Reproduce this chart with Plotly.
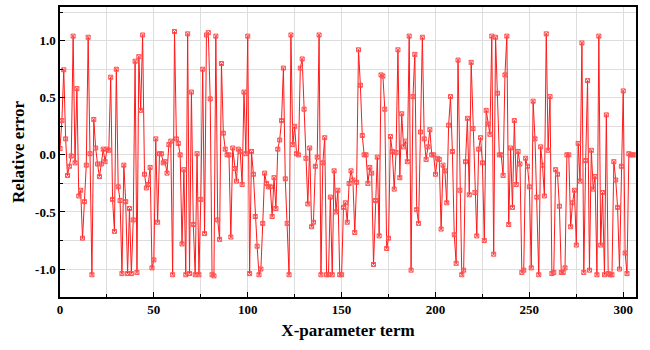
import plotly.graph_objects as go

# Relative error for each X-parameter term (index 0..306)
err_a = [0.055, 0.30, 0.745, 0.14, -0.18, -0.10, -0.01, 1.04, -0.07, 0.58,
         -0.36, -0.31, -0.73, -0.41, -0.09, 1.03, 0.01, -1.05, 0.31, 0.06,
         -0.08, -0.19, -0.08, 0.05, -0.06]
err_b = [0.05, 0.04, 0.68, -0.39, -0.67, 0.75, -0.28, -0.40, -1.04, -0.09,
         -0.41, -1.04, -0.47, -1.04, -0.57, 0.82, -1.03, 0.86, 0.39, 1.05,
         -0.17, -0.29, -0.26, -0.11, -0.99, -0.92]
err_c = [0.14, -0.59, 0.01, 0.01, -0.07, -0.06, -0.16, 0.09, 0.12, -1.05,
         1.08, 0.14, 0.10, 0.0, -0.78, -0.13, -1.05, 1.06, -1.04, 0.55,
         -0.61, -1.05, 0.01, -1.05, -0.39, 0.75]
err_d = [-0.69, 1.05, 1.07, 0.49, -1.05, -1.06, 1.04, -0.57, -0.74, 0.80,
         0.19, 0.05, 0.0, 0.0, -0.72, 0.06, -0.12, -0.23, 0.05, 0.03,
         -0.26, 0.55, 0.01, 1.04, -1.04]
err_e = [0.03, -0.17, -0.54, -0.80, -1.05, -1.0, -0.60, -0.16, -0.25, -0.28,
         -0.28, -0.54, -0.20, -0.47, 0.05, 0.13, 0.30, 0.76, -0.21, -0.60,
         -1.05, 1.05, 0.09, 0.25, 0.01, 0.0]
err_f = [0.76, 0.84, 0.40, -0.03, -0.43, 0.06, -0.63, -0.59, -0.10, -0.02,
         1.05, -1.05, -0.07, 0.15, -1.05, -1.05, -0.37, -1.05, -0.14, -0.50,
         -0.31, -1.05, -1.05, -0.46, -0.42, -0.59, -0.25]
err_g = [-0.14, -0.22, -0.68, -0.24, 0.92, 0.61, 0.17, 0.0, 0.0, -0.25,
         -0.11, -0.16, -0.96, -0.40, -0.02, -0.71, 0.70, 0.69, 0.40, -0.82,
         -0.73, 0.16, 0.03]
err_h = [-0.30, 0.02, 0.92, -0.20, 0.36, 0.07, 0.12, -0.06, 1.04, -1.01,
         0.51, 0.88, -0.48, -0.60, 0.20, 1.03, 0.14, -0.04, 0.07, 0.22,
         0.0, 0.0, -0.17, -0.03, -0.04, -0.65, -0.09]
err_i = [-0.14, -0.42, 0.26, 0.51, 0.03, -0.70, -0.95, 0.83, -0.31, -1.05,
         -1.01, -0.06, 0.32, -0.35, 0.81, 0.23, -0.33, -0.71, 0.05, 0.15,
         -0.07, -0.75, 0.39, 0.27, 0.18, 1.04]
err_j = [-0.87, 1.03, 0.54, 0.0, 0.0, -0.18, 0.70, 1.04, -0.61, 0.06,
         -0.46, 0.30, -0.26, 0.03, -0.08, -1.03, -1.01, -0.03, -0.10, -0.28,
         -0.99, 0.47, 0.14, -0.37, -1.05, 0.07]
err_k = [-0.09, -0.36, 1.06, 0.04, 0.51, -1.04, -1.03, -0.13, -0.17, -0.45,
         -1.03, -1.03, -0.99, 0.0, 0.0, -0.63, -0.42, -0.31, -0.79, 0.10,
         -0.23, 0.98, -1.03, -0.05, 0.65]
err_l = [-1.01, 0.04, -0.30, -0.19, -1.05, 1.04, -0.79, -0.33, -1.05, 0.35,
         -1.04, -1.05, -1.05, -0.06, -0.22, -0.46, -1.0, -0.10, 0.56, -0.86,
         -1.04, 0.01, 0.0, 0.0, 0.0]

rel_error = (err_a + err_b + err_c + err_d + err_e + err_f + err_g + err_h
             + err_i + err_j + err_k + err_l)
terms = list(range(len(rel_error)))

x_ticks = [0, 50, 100, 150, 200, 250, 300]
y_ticks = [-1.0, -0.5, 0.0, 0.5, 1.0]
y_tick_text = ["-1.0", "-0.5", "0.0", "0.5", "1.0"]

red = "#ff1a1a"
font_family = "Liberation Serif, Times New Roman, serif"

fig = go.Figure()
fig.add_trace(go.Scatter(
    x=terms, y=rel_error, mode="lines+markers",
    line=dict(color=red, width=1),
    marker=dict(symbol="square-x-open", size=4, color="#ff5050",
                line=dict(width=1, color="#ff5050")),
    showlegend=False,
))

axis_common = dict(
    showline=True, mirror=True, linecolor="black", linewidth=1.5,
    ticks="inside", ticklen=5, tickwidth=1.2, tickcolor="black",
    showgrid=True, gridcolor="#dddddd", gridwidth=1, zeroline=False,
    tickfont=dict(family=font_family, size=13, color="black", weight="bold"),
)

fig.update_xaxes(
    range=[0, 306.8], tickvals=x_ticks,
    minor=dict(dtick=25, tick0=0, ticks="inside", ticklen=3, tickcolor="black",
               showgrid=True, gridcolor="#dddddd"),
    title=dict(text="X-parameter term", standoff=8,
               font=dict(family=font_family, size=17, color="black", weight="bold")),
    **axis_common,
)
fig.update_yaxes(
    range=[-1.245, 1.295], tickvals=y_ticks, ticktext=y_tick_text,
    minor=dict(dtick=0.25, tick0=0, ticks="inside", ticklen=3, tickcolor="black",
               showgrid=True, gridcolor="#dddddd"),
    title=dict(text="Relative error", standoff=6,
               font=dict(family=font_family, size=17, color="black", weight="bold")),
    **axis_common,
)

fig.update_layout(
    width=650, height=350,
    margin=dict(l=60, r=14, t=5, b=53),
    plot_bgcolor="white", paper_bgcolor="white",
)

fig.write_html("out.html")
